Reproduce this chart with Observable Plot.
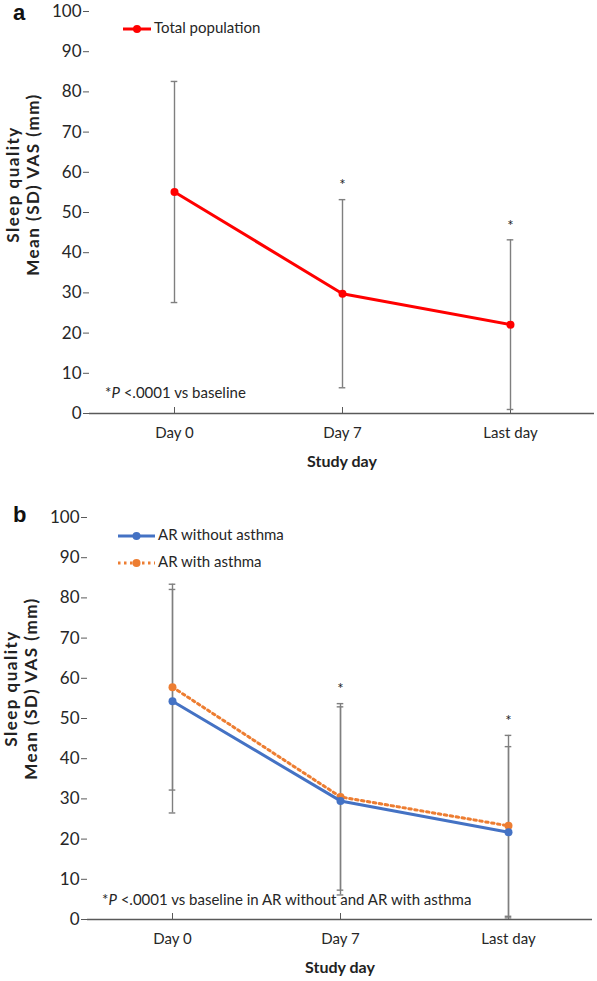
<!DOCTYPE html>
<html>
<head>
<meta charset="utf-8">
<script src="https://cdn.jsdelivr.net/npm/d3@7"></script>
<script src="https://cdn.jsdelivr.net/npm/@observablehq/plot@0.6"></script>
<style>
  html, body { margin: 0; padding: 0; background: #fff; }
  #root { position: relative; width: 597px; height: 981px; font-family: Lato, "Open Sans", sans-serif; color: #262626; }
  .panel { position: absolute; left: 0; }
  .ov { position: absolute; white-space: nowrap; line-height: 1; }
  .lab { font-family: "Liberation Sans", Arial, sans-serif; font-weight: bold; font-size: 22px; line-height: 15px; color: #111; }
  .leg { font-size: 15px; }
  .leg svg { margin-right: 3px; }
  .note { font-size: 15px; }
</style>
</head>
<body>
<div id="root"></div>
<script>
// ---- data ----
const days = ["Day 0", "Day 7", "Last day"];
const totalMean = [55.1, 29.8, 22.1];
const totalSD = [27.5, 23.4, 21.1];
const noAsthmaMean = [54.3, 29.5, 21.7];
const noAsthmaSD = [27.8, 23.4, 21.3];
const asthmaMean = [57.8, 30.5, 23.3];
const asthmaSD = [25.6, 23.2, 22.5];
const significant = [false, true, true];
const yTicks = [0, 10, 20, 30, 40, 50, 60, 70, 80, 90, 100];
const yTitle = "Sleep quality\nMean (SD) VAS (mm)";
const xTitle = "Study day";

const rows = (mean, sd, series) => days.map((d, i) => ({day: d, mean: mean[i], sd: sd[i], sig: significant[i], series}));
const dataA = rows(totalMean, totalSD, "Total population");
const dataB1 = rows(noAsthmaMean, noAsthmaSD, "AR without asthma");
const dataB2 = rows(asthmaMean, asthmaSD, "AR with asthma");
const dataB = dataB1.concat(dataB2);

const ERR = "#7f7f7f";
const AX = "#595959";
const RED = "#ff0000", BLUE = "#4472c4", ORANGE = "#ed7d31";
const CAP = 80.7; // inset so error-bar caps are ~7px wide within a ~168px band

function panel({height, mt, mb, ml, mr, data, lines, starData, titleDy}) {
  const svg = Plot.plot({
    width: 597, height, marginTop: mt, marginBottom: mb, marginLeft: ml, marginRight: mr,
    style: {fontFamily: "Lato, 'Open Sans', sans-serif", fontSize: "15px", color: "#262626", background: "#fff"},
    x: {type: "band", domain: days, padding: 0},
    y: {domain: [0, 100]},
    marks: [
      Plot.axisY({ticks: yTicks, tickSize: 6, tickPadding: 2, label: null, stroke: AX, line: true, fontSize: 17}),
      Plot.axisX({tickSize: 0, tickPadding: 14, label: null}),
      Plot.ruleY([0], {stroke: AX, strokeWidth: 1.3}),
      Plot.ruleX(days, {x: d => d, y1: () => 0, y2: () => 0, insetTop: -6, stroke: AX}),
      Plot.ruleX(data, {x: "day", y1: d => d.mean - d.sd, y2: d => d.mean + d.sd, stroke: ERR, strokeWidth: 1.4}),
      Plot.tickY(data, {x: "day", y: d => d.mean + d.sd, stroke: ERR, strokeWidth: 1.4, insetLeft: CAP, insetRight: CAP}),
      Plot.tickY(data, {x: "day", y: d => d.mean - d.sd, stroke: ERR, strokeWidth: 1.4, insetLeft: CAP, insetRight: CAP}),
      ...lines,
      Plot.text(starData, {x: "day", y: "top", text: () => "*", dy: -14, fontSize: 15, fill: "#222"}),
      Plot.text([yTitle], {frameAnchor: "left", textAnchor: "middle", lineAnchor: "middle", text: d => d, rotate: -90, dx: -67, dy: titleDy, fontWeight: "bold", fontSize: 17, lineHeight: 1.2, fill: "#222"}),
      Plot.text([xTitle], {frameAnchor: "bottom", text: d => d, dy: 53, fontWeight: "bold", fontSize: 16, fill: "#222"})
    ]
  });
  d3.select(svg).selectAll("text").filter(function () { return this.textContent.includes("Sleep"); })
    .attr("letter-spacing", "1.5px");
  return svg;
}

function stars(data) {
  const m = d3.rollup(data.filter(d => d.sig), v => d3.max(v, d => d.mean + d.sd), d => d.day);
  return Array.from(m, ([day, top]) => ({day, top}));
}

const root = document.getElementById("root");

const plotA = panel({
  height: 490, mt: 11, mb: 77, ml: 89, mr: 3, data: dataA, titleDy: -28,
  starData: stars(dataA),
  lines: [
    Plot.line(dataA, {x: "day", y: "mean", stroke: RED, strokeWidth: 3}),
    Plot.dot(dataA, {x: "day", y: "mean", fill: RED, r: 4})
  ]
});
const wa = document.createElement("div"); wa.className = "panel"; wa.style.top = "0px"; wa.appendChild(plotA); root.appendChild(wa);

const plotB = panel({
  height: 491, mt: 27, mb: 62, ml: 87, mr: 5, data: dataB, titleDy: -30,
  starData: stars(dataB),
  lines: [
    Plot.line(dataB2, {x: "day", y: "mean", stroke: ORANGE, strokeWidth: 3, strokeDasharray: "2.5,3.5"}),
    Plot.dot(dataB2, {x: "day", y: "mean", fill: ORANGE, r: 4}),
    Plot.line(dataB1, {x: "day", y: "mean", stroke: BLUE, strokeWidth: 3}),
    Plot.dot(dataB1, {x: "day", y: "mean", fill: BLUE, r: 4})
  ]
});
const wb = document.createElement("div"); wb.className = "panel"; wb.style.top = "490px"; wb.appendChild(plotB); root.appendChild(wb);

// ---- overlays: panel labels, legends, footnotes ----
function ov(html, left, top, cls) {
  const d = document.createElement("div");
  d.className = "ov " + cls; d.style.left = left + "px"; d.style.top = top + "px"; d.innerHTML = html;
  root.appendChild(d); return d;
}
function legendKey(color, dash, w) {
  return `<svg width="${w}" height="10" style="vertical-align:middle"><line x1="0" x2="${w}" y1="5" y2="5" stroke="${color}" stroke-width="3" ${dash ? 'stroke-dasharray="2.5,3.5"' : ''}/><circle cx="${w / 2}" cy="5" r="4" fill="${color}"/></svg>`;
}
ov("a", 13, 5, "lab");
ov("b", 13, 507, "lab");
ov(`${legendKey(RED, false, 28)}${dataA[0].series}`, 123, 20, "leg");
ov(`${legendKey(BLUE, false, 37)}${dataB1[0].series}`, 118, 527, "leg");
ov(`${legendKey(ORANGE, true, 37)}${dataB2[0].series}`, 118, 554, "leg");
ov(`*<i>P</i> &lt;.0001 vs baseline`, 105, 385, "note");
ov(`*<i>P</i> &lt;.0001 vs baseline in AR without and AR with asthma`, 102, 892, "note");
</script>
</body>
</html>
